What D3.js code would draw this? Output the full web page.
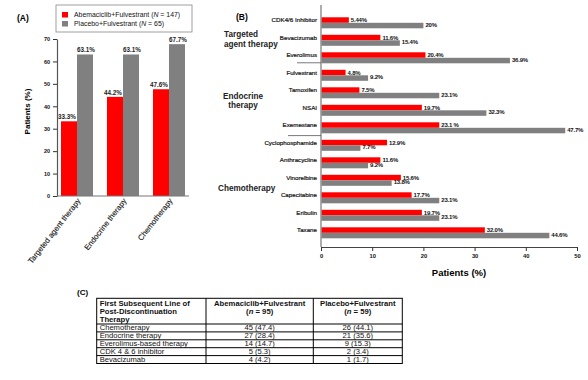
<!DOCTYPE html>
<html><head><meta charset="utf-8">
<script src="https://cdn.jsdelivr.net/npm/d3@7"></script>
<style>
body{margin:0;background:#fff;}
text{font-family:"Liberation Sans",Arial,sans-serif;}
</style></head>
<body>
<script>
// ---------- Panel A data ----------
const catsA = ["Targeted agent therapy", "Endocrine therapy", "Chemotherapy"];
const abemaA = [33.3, 44.2, 47.6];
const placeboA = [63.1, 63.1, 67.7];
const yTicksA = [0, 10, 20, 30, 40, 50, 60, 70];
const seriesNames = ["Abemaciclib+Fulvestrant", "Placebo+Fulvestrant"];
const seriesN = ["147", "65"];

// ---------- Panel B data ----------
const itemsB = ["CDK4/6 Inhibitor", "Bevacizumab", "Everolimus", "Fulvestrant", "Tamoxifen", "NSAI", "Exemestane",
  "Cyclophosphamide", "Anthracycline", "Vinorelbine", "Capecitabine", "Eribulin", "Taxane"];
const abemaB = [5.44, 11.6, 20.4, 4.8, 7.5, 19.7, 23.1, 12.9, 11.6, 15.6, 17.7, 19.7, 32.0];
const placeboB = [20, 15.4, 36.9, 9.2, 23.1, 32.3, 47.7, 7.7, 9.2, 13.8, 23.1, 23.1, 44.6];
const abemaLabelsB = ["5.44%", "11.6%", "20.4%", "4.8%", "7.5%", "19.7%", "23.1 %", "12.9%", "11.6%", "15.6%", "17.7%", "19.7%", "32.0%"];
const placeboLabelsB = ["20%", "15.4%", "36.9%", "9.2%", "23.1%", "32.3%", "47.7%", "7.7%", "9.2%", "13.8%", "23.1%", "23.1%", "44.6%"];
const groupsB = [
  {name: ["Targeted", "agent therapy"], first: 0, last: 2},
  {name: ["Endocrine", "therapy"], first: 3, last: 6},
  {name: ["Chemotherapy"], first: 7, last: 12}
];
const xTicksB = [0, 10, 20, 30, 40, 50];

// ---------- Panel C data ----------
const tableHeader = [["First Subsequent Line of", "Post-Discontinuation", "Therapy"],
  ["Abemaciclib+Fulvestrant", "(n = 95)"], ["Placebo+Fulvestrant", "(n = 59)"]];
const tableRowNames = ["Chemotherapy", "Endocrine therapy", "Everolimus-based therapy", "CDK 4 & 6 inhibitor", "Bevacizumab"];
const tableAbema = ["45 (47.4)", "27 (28.4)", "14 (14.7)", "5 (5.3)", "4 (4.2)"];
const tablePlacebo = ["26 (44.1)", "21 (35.6)", "9 (15.3)", "2 (3.4)", "1 (1.7)"];

const RED = "#ff0000", GRAY = "#808080";

const svg = d3.select("body").append("svg").attr("width", 588).attr("height", 380);

// ================= Panel A =================
const xA = d3.scaleBand().domain(catsA).range([57, 189]).paddingInner(0.304).paddingOuter(0.087);
const yA = d3.scaleLinear().domain([0, 70]).range([196, 39]);
const bwA = xA.bandwidth() / 2;
const gA = svg.append("g");

gA.append("text").attr("x", 17).attr("y", 21).attr("font-size", 8.5).attr("font-weight", "bold").text("(A)");

gA.selectAll(".ra").data(catsA).join("rect")
  .attr("x", d => xA(d)).attr("y", (d, i) => yA(abemaA[i]))
  .attr("width", bwA).attr("height", (d, i) => yA(0) - yA(abemaA[i])).attr("fill", RED);
gA.selectAll(".ga").data(catsA).join("rect")
  .attr("x", d => xA(d) + bwA).attr("y", (d, i) => yA(placeboA[i]))
  .attr("width", bwA).attr("height", (d, i) => yA(0) - yA(placeboA[i])).attr("fill", GRAY);
gA.selectAll(".la").data(catsA).join("text")
  .attr("x", d => xA(d) + bwA / 2 - 2).attr("y", (d, i) => yA(abemaA[i]) - 2)
  .attr("text-anchor", "middle").attr("font-size", 6.3).attr("font-weight", "bold").attr("fill", "#222")
  .text((d, i) => abemaA[i].toFixed(1) + "%");
gA.selectAll(".lb").data(catsA).join("text")
  .attr("x", d => xA(d) + bwA * 1.5 + 1).attr("y", (d, i) => yA(placeboA[i]) - 2)
  .attr("text-anchor", "middle").attr("font-size", 6.3).attr("font-weight", "bold").attr("fill", "#222")
  .text((d, i) => placeboA[i].toFixed(1) + "%");

const axA = gA.append("g").attr("transform", "translate(57,0)")
  .call(d3.axisLeft(yA).tickValues(yTicksA).tickSize(4).tickSizeOuter(0).tickPadding(3));
axA.select(".domain").attr("stroke", "#555").attr("stroke-width", 1.2);
axA.selectAll(".tick line").attr("stroke", "#333");
axA.selectAll(".tick text").attr("font-size", 5.5).attr("font-weight", "bold").attr("fill", "#111")
  .style("font-family", "Liberation Sans, Arial, sans-serif");
gA.append("line").attr("x1", 57).attr("x2", 189).attr("y1", yA(0)).attr("y2", yA(0))
  .attr("stroke", "#777").attr("stroke-width", 1.2);
gA.selectAll(".xl").data(catsA).join("text")
  .attr("transform", d => `translate(${xA(d) + xA.bandwidth() / 2 + 4},${yA(0) + 5}) rotate(-52)`)
  .attr("text-anchor", "end").attr("font-size", 7.8).attr("fill", "#111")
  .attr("stroke", "#111").attr("stroke-width", 0.12).text(d => d);
gA.append("text").attr("transform", `translate(30,${(yA(0) + yA(70)) / 2 - 6}) rotate(-90)`)
  .attr("text-anchor", "middle").attr("font-size", 8).attr("font-weight", "bold").text("Patients (%)");

gA.append("rect").attr("x", 56).attr("y", 5).attr("width", 136).attr("height", 27)
  .attr("fill", "none").attr("stroke", "#888").attr("stroke-width", 0.8);
[RED, GRAY].forEach((c, i) => {
  gA.append("rect").attr("x", 62).attr("y", 12 + i * 9).attr("width", 6).attr("height", 5.5).attr("fill", c);
  const t = gA.append("text").attr("x", 74).attr("y", 17.3 + i * 9).attr("font-size", 6.9).attr("fill", "#111");
  t.append("tspan").text(seriesNames[i] + " (");
  t.append("tspan").attr("font-style", "italic").text("N");
  t.append("tspan").text(" = " + seriesN[i] + ")");
});

// ================= Panel B =================
const xB = d3.scaleLinear().domain([0, 50]).range([321, 577]);
const yB = d3.scaleBand().domain(itemsB).range([8, 247.6]).paddingInner(0.371).paddingOuter(0.531);
const bhB = yB.bandwidth() / 2;
const gB = svg.append("g");

gB.append("text").attr("x", 236).attr("y", 20).attr("font-size", 8.5).attr("font-weight", "bold").text("(B)");

gB.selectAll(".rb").data(itemsB).join("rect")
  .attr("x", xB(0)).attr("y", d => yB(d)).attr("height", bhB)
  .attr("width", (d, i) => xB(abemaB[i]) - xB(0)).attr("fill", RED);
gB.selectAll(".gb").data(itemsB).join("rect")
  .attr("x", xB(0)).attr("y", d => yB(d) + bhB).attr("height", bhB)
  .attr("width", (d, i) => xB(placeboB[i]) - xB(0)).attr("fill", GRAY);
gB.selectAll(".lr").data(itemsB).join("text")
  .attr("x", (d, i) => xB(abemaB[i]) + 2).attr("y", d => yB(d) + bhB / 2)
  .attr("dy", "0.35em").attr("font-size", 6).attr("font-weight", "bold").attr("letter-spacing", -0.2).attr("fill", "#111")
  .text((d, i) => abemaLabelsB[i]);
gB.selectAll(".lg").data(itemsB).join("text")
  .attr("x", (d, i) => xB(placeboB[i]) + 2).attr("y", d => yB(d) + bhB * 1.5 - 0.8)
  .attr("dy", "0.35em").attr("font-size", 6).attr("font-weight", "bold").attr("letter-spacing", -0.2).attr("fill", "#111")
  .text((d, i) => placeboLabelsB[i]);

gB.selectAll(".cl").data(itemsB).join("text")
  .attr("x", xB(0) - 4).attr("y", d => yB(d) + bhB / 2)
  .attr("dy", "0.35em").attr("text-anchor", "end").attr("font-size", 6.2).attr("fill", "#111")
  .attr("stroke", "#111").attr("stroke-width", 0.2)
  .text(d => d);

gB.append("line").attr("x1", xB(0)).attr("x2", xB(0)).attr("y1", 5).attr("y2", 247)
  .attr("stroke", "#999").attr("stroke-width", 1.6);
const axB = gB.append("g").attr("transform", "translate(0,247)")
  .call(d3.axisBottom(xB).tickValues(xTicksB).tickSize(4).tickSizeOuter(0).tickPadding(3));
axB.select(".domain").attr("stroke", "#444").attr("stroke-width", 1);
axB.selectAll(".tick line").attr("stroke", "#333");
axB.selectAll(".tick text").attr("font-size", 5.8).attr("font-weight", "bold").attr("fill", "#111")
  .style("font-family", "Liberation Sans, Arial, sans-serif");
gB.append("text").attr("x", (xB(0) + xB(50)) / 2 + 10).attr("y", 276).attr("text-anchor", "middle")
  .attr("font-size", 9.5).attr("font-weight", "bold").text("Patients (%)");

const step = yB.step();
const sepOffsets = [0.4, 0.24];
const sepStart = [297, 288];
groupsB.slice(1).forEach((g, i) => {
  const y = yB(itemsB[g.first]) - step * sepOffsets[i];
  gB.append("line").attr("x1", sepStart[i]).attr("x2", xB(0)).attr("y1", y).attr("y2", y)
    .attr("stroke", "#555").attr("stroke-width", 0.8);
});
const groupAnchor = ["start", "middle", "start"];
const groupX = [224, 243, 218];
groupsB.forEach((g, gi) => {
  const yc = (yB(itemsB[g.first]) + yB(itemsB[g.last]) + yB.bandwidth()) / 2 - 1;
  const n = g.name.length, lh = 9.5;
  g.name.forEach((line, li) => {
    gB.append("text").attr("x", groupX[gi]).attr("y", yc + (li - (n - 1) / 2) * lh)
      .attr("dy", "0.35em").attr("text-anchor", groupAnchor[gi])
      .attr("font-size", 8.2).attr("font-weight", "bold").attr("fill", "#222").text(line);
  });
});

// ================= Panel C (table) =================
const gC = svg.append("g");
gC.append("text").attr("x", 77).attr("y", 295).attr("font-size", 8).attr("font-weight", "bold").text("(C)");
const colX = [96.7, 206, 313.3, 402.3];
const tTop = 298.3, headH = 25.7, rowH = 7.9;
const tBottom = tTop + headH + rowH * tableRowNames.length;
gC.append("rect").attr("x", colX[0]).attr("y", tTop).attr("width", colX[3] - colX[0]).attr("height", tBottom - tTop)
  .attr("fill", "none").attr("stroke", "#000").attr("stroke-width", 1);
[1, 2].forEach(i => gC.append("line").attr("x1", colX[i]).attr("x2", colX[i]).attr("y1", tTop).attr("y2", tBottom)
  .attr("stroke", "#000").attr("stroke-width", 1));
tableRowNames.forEach((r, i) => {
  const y = tTop + headH + rowH * i;
  gC.append("line").attr("x1", colX[0]).attr("x2", colX[3]).attr("y1", y).attr("y2", y)
    .attr("stroke", "#000").attr("stroke-width", 1);
});
tableHeader[0].forEach((t, i) => gC.append("text").attr("x", colX[0] + 3).attr("y", tTop + 7.3 + i * 8)
  .attr("font-size", 7.7).attr("font-weight", "bold").attr("fill", "#111").text(t));
[1, 2].forEach(c => {
  const cx = (colX[c] + colX[c + 1]) / 2;
  gC.append("text").attr("x", cx).attr("y", tTop + 7.3).attr("text-anchor", "middle")
    .attr("font-size", 7.7).attr("font-weight", "bold").attr("fill", "#111").text(tableHeader[c][0]);
  const t = gC.append("text").attr("x", cx).attr("y", tTop + 15.3).attr("text-anchor", "middle")
    .attr("font-size", 7.7).attr("font-weight", "bold").attr("fill", "#111");
  t.append("tspan").text("(");
  t.append("tspan").attr("font-style", "italic").text("n");
  t.append("tspan").text(tableHeader[c][1].slice(2));
});
tableRowNames.forEach((r, i) => {
  const y = tTop + headH + rowH * (i + 0.5) + 2.5;
  gC.append("text").attr("x", colX[0] + 3).attr("y", y).attr("font-size", 7.6).attr("fill", "#111").text(r);
  gC.append("text").attr("x", (colX[1] + colX[2]) / 2).attr("y", y).attr("text-anchor", "middle")
    .attr("font-size", 7.6).attr("fill", "#111").text(tableAbema[i]);
  gC.append("text").attr("x", (colX[2] + colX[3]) / 2).attr("y", y).attr("text-anchor", "middle")
    .attr("font-size", 7.6).attr("fill", "#111").text(tablePlacebo[i]);
});
</script>
</body></html>
